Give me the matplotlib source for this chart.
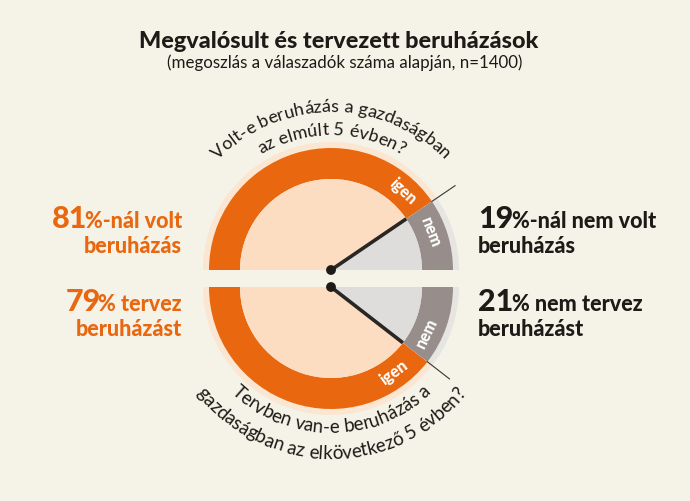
import numpy as np
import matplotlib.pyplot as plt
from matplotlib.patches import Wedge, Circle
from matplotlib.font_manager import FontProperties

# data
past_share = [81, 19]      # igen, nem - Volt-e beruházás
plan_share = [79, 21]      # igen, nem - Tervben van-e beruházás
segment_labels = ["igen", "nem"]
past_question = ["Volt-e beruházás a gazdaságban", "az elmúlt 5 évben?"]
plan_question = ["Tervben van-e beruházás a", "gazdaságban az elkövetkező 5 évben?"]
left_texts = [("%-nál volt", "beruházás"), ("% tervez", "beruházást")]
right_texts = [("%-nál nem volt", "beruházás"), ("% nem tervez", "beruházást")]
title = "Megvalósult és tervezett beruházások"
subtitle = "(megoszlás a válaszadók száma alapján, n=1400)"

BG = "#F5F2E7"
ORANGE = "#E8670F"
PEACH = "#FCDDC2"
PEACH_EDGE = "#FBE6D2"
GRAY = "#978D8A"
LIGHTGRAY = "#DEDDDB"
GRAY_EDGE = "#E7E5E1"
DARK = "#1E1A17"
FONT = "Lato"

fig = plt.figure(figsize=(6.9, 5.01), dpi=100, facecolor=BG)
ax = fig.add_axes([0, 0, 1, 1])
ax.set_xlim(0, 690)
ax.set_ylim(0, 501)
ax.axis("off")
ax.set_facecolor(BG)
rend = fig.canvas.get_renderer()

cx = 331
cy_top = 231
cy_bot = 214
r_edge, r_out, r_in = 128, 122, 91


def half_donut(cy, shares, upper):
    frac = shares[0] / sum(shares)
    if upper:
        a0, a1, a2 = 180, 180 - frac * 180, 0
        o_range, g_range = (a1, a0), (a2, a1)
    else:
        a0, a1, a2 = 180, 180 + frac * 180, 360
        o_range, g_range = (a0, a1), (a1, a2)
    for (t1, t2), edge, ring, fill in [(o_range, PEACH_EDGE, ORANGE, PEACH),
                                       (g_range, GRAY_EDGE, GRAY, LIGHTGRAY)]:
        ax.add_patch(Wedge((cx, cy), r_edge, t1, t2, color=edge, lw=0))
        ax.add_patch(Wedge((cx, cy), r_out, t1, t2, width=r_out - r_in, color=ring, lw=0))
        ax.add_patch(Wedge((cx, cy), r_in, t1, t2, color=fill, lw=0))
    # needle on the boundary
    th = np.deg2rad(a1)
    ax.plot([cx, cx + r_in * np.cos(th)], [cy, cy + r_in * np.sin(th)],
            color="#2A2624", lw=2.6, solid_capstyle="butt", zorder=5)
    ax.plot([cx + r_out * np.cos(th), cx + 150 * np.cos(th)],
            [cy + r_out * np.sin(th), cy + 150 * np.sin(th)],
            color="#3A3634", lw=0.8, zorder=5)
    ax.add_patch(Circle((cx, cy), 4.2, color="#1E1A17", zorder=6))
    # igen / nem labels along the ring
    rm = (r_out + r_in) / 2
    if upper:
        spots = [(a1 + 13, segment_labels[0]), (a1 - 13, segment_labels[1])]
        rot = lambda a: a - 90
    else:
        spots = [(a1 - 16, segment_labels[0]), (a1 + 12, segment_labels[1])]
        rot = lambda a: a + 90
    for a, lab in spots:
        t = np.deg2rad(a)
        ax.text(cx + rm * np.cos(t), cy + rm * np.sin(t), lab, color="white",
                fontsize=11.5, fontweight="black", family=FONT, ha="center",
                va="center", rotation=rot(a), rotation_mode="anchor", zorder=7)


def arc_text(s, cy, r, upper, size=13):
    fp = FontProperties(family=FONT, size=size)
    w = lambda t: rend.get_text_width_height_descent(t, fp, ismath=False)[0]
    total = w(s)
    for i, ch in enumerate(s):
        if ch == " ":
            continue
        pos = w(s[:i + 1]) - w(ch) / 2
        d = (total / 2 - pos) / r
        if upper:
            th = np.pi / 2 + d
            rot = np.rad2deg(th) - 90
        else:
            th = -np.pi / 2 - d
            rot = np.rad2deg(th) + 90
        ax.text(cx + r * np.cos(th), cy + r * np.sin(th), ch, fontproperties=fp,
                color=DARK, ha="center", va="baseline", rotation=rot,
                rotation_mode="anchor")


half_donut(cy_top, past_share, True)
half_donut(cy_bot, plan_share, False)

arc_text(past_question[0], cy_top, 158, True)
arc_text(past_question[1], cy_top, 135, True)
arc_text(plan_question[0], cy_bot, 146, False, size=13.5)
arc_text(plan_question[1], cy_bot, 172, False, size=13.5)

# title
ax.text(339, 453, title, ha="center", va="baseline", fontsize=16.8,
        fontweight="black", family=FONT, color=DARK)
ax.text(345, 433, subtitle, ha="center", va="baseline", fontsize=12.2,
        family=FONT, color=DARK)

# side statements
big, small = 22, 15.5
left_y = [(273, 248), (190, 165)]
right_y = [(273, 248), (190, 165)]
for share, (rest, line2), (y1, y2) in zip([past_share[0], plan_share[0]], left_texts, left_y):
    t = ax.text(182, y1, rest, ha="right", va="baseline", fontsize=small,
                fontweight="black", family=FONT, color=ORANGE)
    ax.annotate(str(share), xy=(0, y1), xycoords=(t, "data"), xytext=(2, 0),
                textcoords="offset points", ha="right", va="baseline",
                fontsize=big, fontweight="black", family=FONT, color=ORANGE)
    ax.text(182, y2, line2, ha="right", va="baseline", fontsize=small,
            fontweight="black", family=FONT, color=ORANGE)

for share, (rest, line2), (y1, y2) in zip([past_share[1], plan_share[1]], right_texts, right_y):
    t = ax.text(478, y1, str(share), ha="left", va="baseline", fontsize=big,
                fontweight="black", family=FONT, color=DARK)
    ax.annotate(rest, xy=(1, y1), xycoords=(t, "data"), xytext=(-1, 0),
                textcoords="offset points", ha="left", va="baseline",
                fontsize=small, fontweight="black", family=FONT, color=DARK)
    ax.text(478, y2, line2, ha="left", va="baseline", fontsize=small,
            fontweight="black", family=FONT, color=DARK)

fig.savefig("out.png", dpi=100, facecolor=BG)
